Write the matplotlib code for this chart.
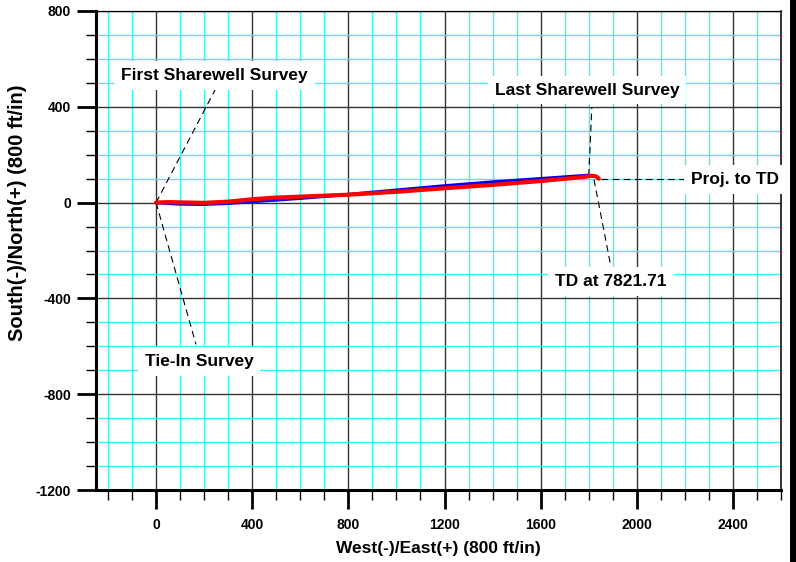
import matplotlib
matplotlib.use("Agg")
import matplotlib.pyplot as plt
from matplotlib.patches import Rectangle
from matplotlib.ticker import MultipleLocator

plt.rcParams['font.family'] = ['Liberation Sans', 'DejaVu Sans']
plt.rcParams['font.weight'] = 'bold'
plt.rcParams['axes.unicode_minus'] = False

# Planned (blue) and actual (red) well paths: East(+)/West(-), North(+)/South(-)
plan_ew = [0, 100, 200, 300, 400, 600, 800, 1000, 1200, 1400, 1600, 1800]
plan_ns = [0, -6, -7, -3, 4, 18, 34, 52, 70, 86, 100, 114]
act_ew = [0, 50, 100, 200, 300, 400, 500, 600, 800, 1000, 1200, 1400, 1600, 1780, 1810, 1830, 1842]
act_ns = [0, 2, 1, -1, 4, 14, 21, 25, 33, 45, 60, 74, 90, 107, 112, 110, 100]

# Annotations: label, text position, leader start, leader end
annotations = [
    ("First Sharewell Survey", (243, 530), (0, 0), (245, 470)),
    ("Tie-In Survey", (179, -662), (0, 0), (166, -592)),
    ("Last Sharewell Survey", (1793, 470), (1800, 112), (1813, 396)),
    ("Proj. to TD", (2408, 96), (1850, 100), (2205, 100)),
    ("TD at 7821.71", (1893, -330), (1822, 96), (1893, -271)),
]

x_lim = (-250, 2600)
y_lim = (-1200, 800)
x_ticks = [0, 400, 800, 1200, 1600, 2000, 2400]
y_ticks = [-1200, -800, -400, 0, 400, 800]

W, H = 796, 562
fig = plt.figure(figsize=(W / 100, H / 100), dpi=100)
ax = fig.add_axes([96 / W, 1 - 490 / H, 685 / W, 479 / H])
ax.set_xlim(*x_lim)
ax.set_ylim(*y_lim)

ax.set_xticks(x_ticks)
ax.set_yticks(y_ticks)
ax.xaxis.set_minor_locator(MultipleLocator(100))
ax.yaxis.set_minor_locator(MultipleLocator(100))
ax.grid(which='minor', color='#3CF2F2', linewidth=1.0, zorder=0)
ax.grid(which='major', color='#333333', linewidth=1.0, zorder=0.5)
ax.set_axisbelow(True)

ax.tick_params(which='major', direction='out', length=14, width=2, labelsize=10, pad=4)
ax.tick_params(axis='x', which='major', pad=6)
ax.tick_params(which='minor', direction='out', length=7, width=1)
for lab in ax.get_xticklabels() + ax.get_yticklabels():
    lab.set_fontweight('bold')

ax.spines['left'].set_linewidth(2.2)
ax.spines['bottom'].set_linewidth(2.2)
ax.spines['top'].set_linewidth(0.9)
ax.spines['right'].set_linewidth(1.1)

ax.plot(plan_ew, plan_ns, color='#0000EE', linewidth=2.4, solid_capstyle='round', zorder=3)
ax.plot(act_ew, act_ns, color='#FF0000', linewidth=3.0, solid_capstyle='round', zorder=4)

for label, tpos, p0, p1 in annotations:
    ax.plot([p0[0], p1[0]], [p0[1], p1[1]], color='black', linewidth=0.8,
            linestyle=(0, (6, 4)), zorder=2)
    ax.text(tpos[0], tpos[1], label, ha='center', va='center', fontsize=12.5,
            fontweight='bold', zorder=5,
            bbox=dict(boxstyle='square,pad=0.4', facecolor='white', edgecolor='none'))

ax.set_xlabel("West(-)/East(+) (800 ft/in)", fontsize=12.5, fontweight='bold', labelpad=7)
fig.text(18 / W, 1 - 213 / H, "South(-)/North(+) (800 ft/in)", rotation=90,
         ha='center', va='center', fontsize=14.5, fontweight='bold')

fig.patches.append(Rectangle((790 / W, 0), 6 / W, 1, transform=fig.transFigure,
                             facecolor='black', edgecolor='none'))

fig.savefig("out.png", dpi=100)
